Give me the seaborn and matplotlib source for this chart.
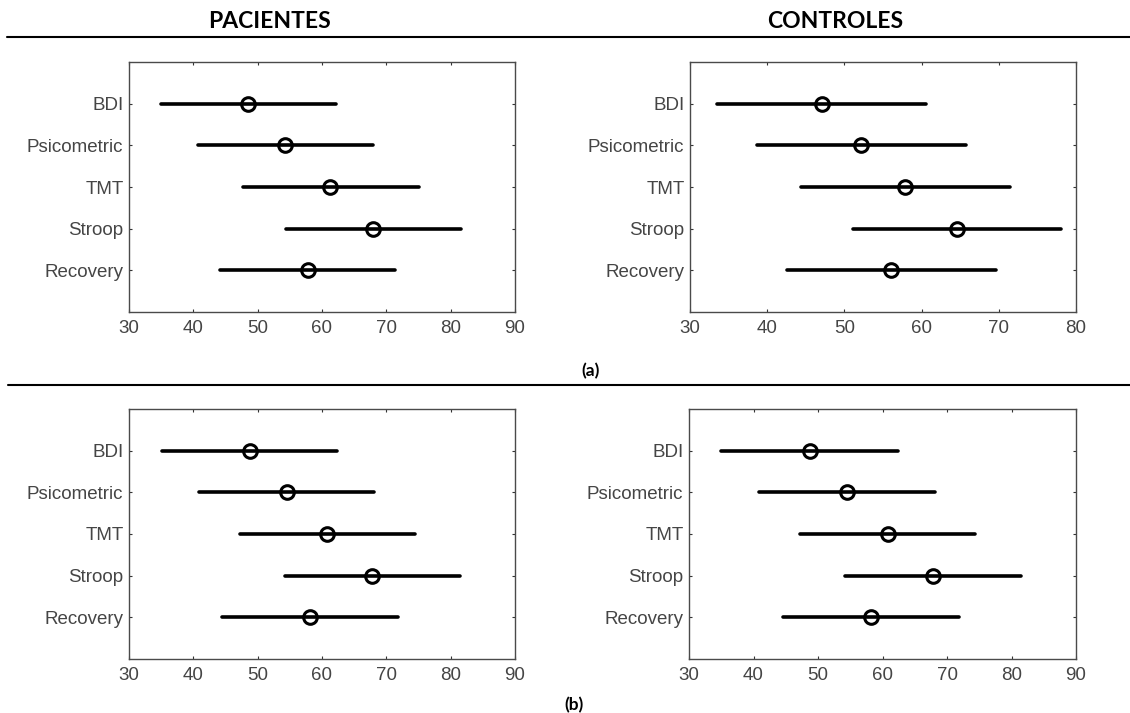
import numpy as np
import pandas as pd
import matplotlib
matplotlib.use("Agg")
import matplotlib.pyplot as plt
from matplotlib.lines import Line2D
import seaborn as sns

# ---------------- data ----------------
categories = ["BDI", "Psicometric", "TMT", "Stroop", "Recovery"]

# (a) PACIENTES
a_pac_low = [34.9, 40.7, 47.7, 54.4, 44.2]
a_pac_mid = [48.5, 54.3, 61.3, 68.0, 57.8]
a_pac_high = [62.1, 67.9, 75.0, 81.6, 71.4]

# (a) CONTROLES
a_con_low = [33.5, 38.7, 44.4, 51.1, 42.6]
a_con_mid = [47.1, 52.2, 57.9, 64.6, 56.1]
a_con_high = [60.6, 65.8, 71.4, 78.1, 69.6]

# (b) PACIENTES
b_pac_low = [35.1, 40.9, 47.2, 54.2, 44.5]
b_pac_mid = [48.8, 54.5, 60.8, 67.8, 58.2]
b_pac_high = [62.4, 68.1, 74.4, 81.5, 71.8]

# (b) CONTROLES
b_con_low = [35.0, 40.8, 47.2, 54.2, 44.5]
b_con_mid = [48.7, 54.5, 60.8, 67.9, 58.2]
b_con_high = [62.4, 68.1, 74.4, 81.5, 71.8]

xticks_a_pac = [30, 40, 50, 60, 70, 80, 90]
xticks_a_con = [30, 40, 50, 60, 70, 80]
xticks_b = [30, 40, 50, 60, 70, 80, 90]

headers = ["PACIENTES", "CONTROLES"]
panel_labels = ["(a)", "(b)"]

# ---------------- style ----------------
sns.set_theme(style="white")
plt.rcParams["font.family"] = ["Liberation Sans", "DejaVu Sans"]

W, H = 1130, 713
fig = plt.figure(figsize=(W / 100, H / 100), dpi=100)
fig.patch.set_facecolor("white")


def rect(l, r, t, b):
    return [l / W, 1 - b / H, (r - l) / W, (b - t) / H]


def make_df(low, mid, high):
    rows = []
    for c, lo, m, hi in zip(categories, low, mid, high):
        for v in (lo, m, hi):
            rows.append({"Variable": c, "Value": v})
    return pd.DataFrame(rows)


def panel(r, low, mid, high, xlim, xticks):
    ax = fig.add_axes(r)
    df = make_df(low, mid, high)
    sns.pointplot(
        data=df, x="Value", y="Variable", order=categories, orient="h",
        estimator="median", errorbar=("pi", 100), linestyle="none",
        color="black", marker="o", markersize=9.8, markeredgewidth=2.2,
        markerfacecolor="none",
        err_kws={"linewidth": 2.6, "color": "black"}, ax=ax,
    )
    ax.set_xlim(*xlim)
    ax.set_ylim(len(categories), -1)
    ax.set_xticks(xticks)
    ax.set_xticklabels([str(t) for t in xticks])
    ax.set_xlabel("")
    ax.set_ylabel("")
    ax.tick_params(axis="both", direction="in", length=2.5, width=0.8,
                   color="#333333", labelcolor="#454545", labelsize=13.5,
                   top=True, right=True, bottom=True, left=True)
    ax.tick_params(axis="x", pad=6)
    ax.tick_params(axis="y", pad=4)
    for s in ax.spines.values():
        s.set_visible(True)
        s.set_color("#4a4a4a")
        s.set_linewidth(1.0)
    ax.grid(False)
    ax.set_facecolor("white")
    return ax


panel(rect(129, 515, 62, 312), a_pac_low, a_pac_mid, a_pac_high, (30, 90), xticks_a_pac)
panel(rect(690, 1076, 62, 312), a_con_low, a_con_mid, a_con_high, (30, 80), xticks_a_con)
panel(rect(129, 515, 409, 659), b_pac_low, b_pac_mid, b_pac_high, (30, 90), xticks_b)
panel(rect(689, 1076, 409, 659), b_con_low, b_con_mid, b_con_high, (30, 90), xticks_b)

# headers
fig.text(270 / W, 1 - 21 / H, headers[0], ha="center", va="center",
         fontsize=16.5, fontweight="bold", family=["Lato", "DejaVu Sans"], color="black")
fig.text(835 / W, 1 - 21 / H, headers[1], ha="center", va="center",
         fontsize=16.5, fontweight="bold", family=["Lato", "DejaVu Sans"], color="black")

# separator lines
fig.add_artist(Line2D([7 / W, 1.0], [1 - 37 / H, 1 - 37 / H], color="black", linewidth=1.5))
fig.add_artist(Line2D([8 / W, 1.0], [1 - 385 / H, 1 - 385 / H], color="black", linewidth=1.5))

# panel labels
fig.text(591 / W, 1 - 371 / H, panel_labels[0], ha="center", va="center",
         fontsize=12.5, fontweight="bold", family=["Lato", "DejaVu Sans"], color="black")
fig.text(574 / W, 1 - 705 / H, panel_labels[1], ha="center", va="center",
         fontsize=12.5, fontweight="bold", family=["Lato", "DejaVu Sans"], color="black")

fig.savefig("out.png", dpi=100)
